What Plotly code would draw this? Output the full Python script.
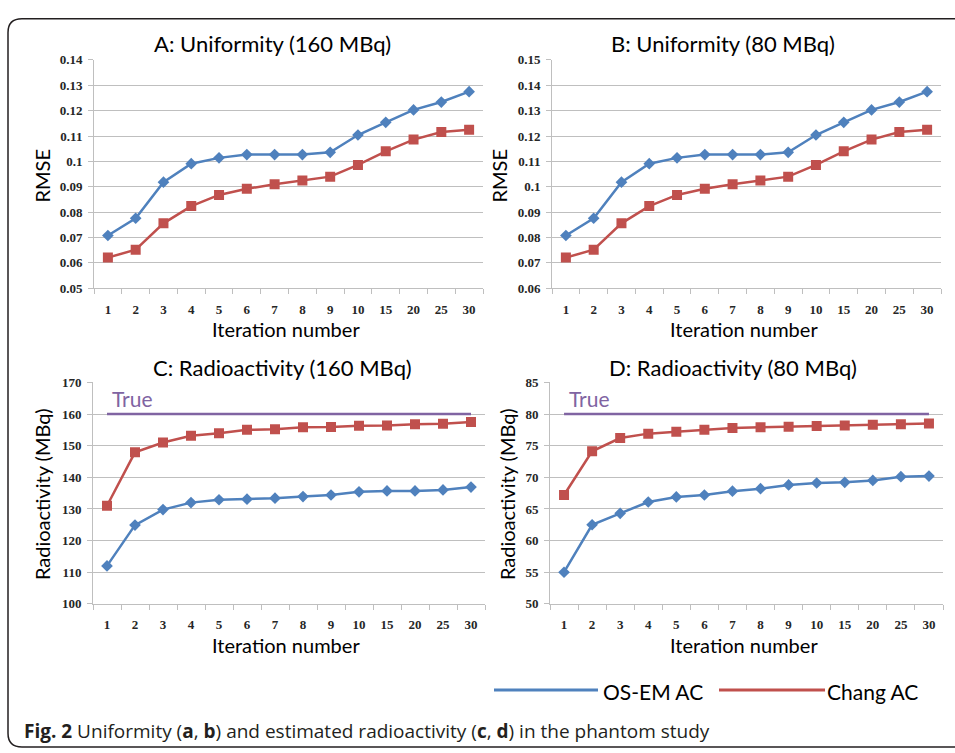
import plotly.graph_objects as go

W, H = 955, 753

iterations = ["1", "2", "3", "4", "5", "6", "7", "8", "9", "10", "15", "20", "25", "30"]

# Panel A: RMSE, 160 MBq
rmse160_osem = [0.0708, 0.0776, 0.0918, 0.0991, 0.1014, 0.1027, 0.1027, 0.1027, 0.1036, 0.1104, 0.1154, 0.1203, 0.1234, 0.1275]
rmse160_chang = [0.0621, 0.0652, 0.0756, 0.0824, 0.0868, 0.0892, 0.0910, 0.0925, 0.0940, 0.0986, 0.1040, 0.1086, 0.1116, 0.1125]

# Panel B: RMSE, 80 MBq
rmse80_osem = [0.0808, 0.0876, 0.1018, 0.1091, 0.1114, 0.1127, 0.1127, 0.1127, 0.1136, 0.1204, 0.1254, 0.1303, 0.1334, 0.1375]
rmse80_chang = [0.0721, 0.0752, 0.0856, 0.0924, 0.0968, 0.0992, 0.1010, 0.1025, 0.1040, 0.1086, 0.1140, 0.1186, 0.1216, 0.1225]

# Panel C: radioactivity, 160 MBq
act160_osem = [112.0, 124.9, 129.8, 132.0, 132.9, 133.1, 133.4, 133.9, 134.4, 135.4, 135.7, 135.7, 136.0, 136.9]
act160_chang = [131.0, 147.9, 151.0, 153.1, 153.9, 155.0, 155.2, 155.8, 155.9, 156.3, 156.4, 156.8, 156.9, 157.5]
true160 = 160

# Panel D: radioactivity, 80 MBq
act80_osem = [55.0, 62.5, 64.3, 66.1, 66.9, 67.2, 67.8, 68.2, 68.8, 69.1, 69.2, 69.5, 70.1, 70.2]
act80_chang = [67.2, 74.1, 76.2, 76.9, 77.2, 77.5, 77.8, 77.9, 78.0, 78.1, 78.2, 78.3, 78.4, 78.5]
true80 = 80

yticks_a = [0.05, 0.06, 0.07, 0.08, 0.09, 0.10, 0.11, 0.12, 0.13, 0.14]
ytext_a = ["0.05", "0.06", "0.07", "0.08", "0.09", "0.1", "0.11", "0.12", "0.13", "0.14"]
yticks_b = [0.06, 0.07, 0.08, 0.09, 0.10, 0.11, 0.12, 0.13, 0.14, 0.15]
ytext_b = ["0.06", "0.07", "0.08", "0.09", "0.1", "0.11", "0.12", "0.13", "0.14", "0.15"]
yticks_c = [100, 110, 120, 130, 140, 150, 160, 170]
yticks_d = [50, 55, 60, 65, 70, 75, 80, 85]

titles = ["A: Uniformity (160 MBq)", "B: Uniformity (80 MBq)",
          "C: Radioactivity (160 MBq)", "D: Radioactivity (80 MBq)"]
series_names = ["OS-EM AC", "Chang AC"]

BLUE = "#4F81BD"
RED = "#C0504D"
PURPLE = "#8064A2"
GRID = "#bfbfbf"
FONT = "Lato"


def px(x):
    return x / W


def py(y):
    return 1 - y / H


fig = go.Figure()

panels = [
    ("", 94, 483, 54, 287, rmse160_osem, rmse160_chang, None, [0.05, 0.14], yticks_a, ytext_a),
    ("2", 552, 941, 54, 287, rmse80_osem, rmse80_chang, None, [0.06, 0.15], yticks_b, ytext_b),
    ("3", 93, 485, 383, 609, act160_osem, act160_chang, true160, [100, 170], yticks_c, [str(v) for v in yticks_c]),
    ("4", 550, 943, 383, 609, act80_osem, act80_chang, true80, [50, 85], yticks_d, [str(v) for v in yticks_d]),
]

tickfont = dict(family="Liberation Serif", size=13, color="#262626", weight="bold")

for suf, x0, x1, y0, y1, osem, chang, true_v, yr, tv, tt in panels:
    xa = "x" + suf
    ya = "y" + suf
    if true_v is not None:
        fig.add_trace(go.Scatter(
            x=[iterations[0], iterations[-1]], y=[true_v, true_v], mode="lines",
            line=dict(color=PURPLE, width=2.5), xaxis=xa, yaxis=ya, showlegend=False))
    fig.add_trace(go.Scatter(
        x=iterations, y=osem, mode="lines+markers", name=series_names[0],
        line=dict(color=BLUE, width=2.5),
        marker=dict(symbol="diamond", size=9, color=BLUE),
        xaxis=xa, yaxis=ya, showlegend=False))
    fig.add_trace(go.Scatter(
        x=iterations, y=chang, mode="lines+markers", name=series_names[1],
        line=dict(color=RED, width=2.5),
        marker=dict(symbol="square", size=10, color=RED),
        xaxis=xa, yaxis=ya, showlegend=False))

    fig.update_layout(**{
        "xaxis" + suf: dict(
            domain=[px(x0), px(x1)], anchor=ya, type="category",
            categoryorder="array", categoryarray=iterations,
            showgrid=False, showline=True, linecolor=GRID, linewidth=1,
            ticks="outside", tickson="boundaries", ticklen=5, tickcolor=GRID,
            ticklabelstandoff=9, tickfont=tickfont, zeroline=False,
            range=[-0.5, len(iterations) - 0.5]),
        "yaxis" + suf: dict(
            domain=[py(y1), py(y0)], anchor=xa, range=yr,
            tickvals=tv, ticktext=tt,
            showgrid=True, gridcolor=GRID, gridwidth=1,
            showline=True, linecolor=GRID, linewidth=1,
            ticks="outside", ticklen=5, tickcolor=GRID,
            ticklabelstandoff=3, tickfont=tickfont, zeroline=False),
    })

ann = []
for text, (x, y) in zip(titles, [(272, 37), (723, 37), (282, 368), (733, 368)]):
    ann.append(dict(text=text, x=px(x), y=py(y), xref="paper", yref="paper",
                    showarrow=False, xanchor="center", yanchor="middle",
                    font=dict(family=FONT, size=22, color="#000")))
for (x, y) in [(286, 329), (744, 329), (286, 651), (744, 651)]:
    ann.append(dict(text="Iteration number", x=px(x), y=py(y), xref="paper", yref="paper",
                    showarrow=False, xanchor="center", yanchor="middle",
                    font=dict(family=FONT, size=20, color="#000")))
for text, (x, y) in [("RMSE", (42, 172)), ("RMSE", (499, 172)),
                     ("Radioactivity (MBq)", (42, 497)), ("Radioactivity (MBq)", (507, 497))]:
    ann.append(dict(text=text, x=px(x), y=py(y), xref="paper", yref="paper",
                    showarrow=False, xanchor="center", yanchor="middle", textangle=-90,
                    font=dict(family=FONT, size=20, color="#000")))
# "True" labels, anchored at the first category (index 0 on a category axis)
first_idx = iterations.index(iterations[0])
for suf, tvv in [("3", true160), ("4", true80)]:
    ann.append(dict(text="True", x=first_idx, y=tvv, xref="x" + suf, yref="y" + suf,
                    showarrow=False, xanchor="left", yanchor="bottom", xshift=3, yshift=1,
                    font=dict(family=FONT, size=21, color=PURPLE)))
ann.append(dict(text=series_names[0], x=px(601), y=py(698), xref="paper", yref="paper",
                showarrow=False, xanchor="left", yanchor="middle",
                font=dict(family=FONT, size=21, color="#000")))
ann.append(dict(text=series_names[1], x=px(825), y=py(698), xref="paper", yref="paper",
                showarrow=False, xanchor="left", yanchor="middle",
                font=dict(family=FONT, size=21, color="#000")))
ann.append(dict(text="<b>Fig. 2</b> Uniformity (<b>a</b>, <b>b</b>) and estimated radioactivity (<b>c</b>, <b>d</b>) in the phantom study",
                x=px(22), y=py(739), xref="paper", yref="paper",
                showarrow=False, xanchor="left", yanchor="middle",
                font=dict(family="Open Sans", size=19, color="#231f20")))

shapes = [
    dict(type="line", xref="paper", yref="paper", x0=px(494), x1=px(598), y0=py(697), y1=py(697),
         line=dict(color=BLUE, width=3)),
    dict(type="line", xref="paper", yref="paper", x0=px(719), x1=px(825), y0=py(697), y1=py(697),
         line=dict(color=RED, width=3)),
]
pts = lambda x, y: f"{px(x)},{py(y)}"
path = (f"M {pts(960, 12)} L {pts(22, 12)} Q {pts(8, 12)} {pts(8, 26)} "
        f"L {pts(8, 741)} Q {pts(8, 755)} {pts(22, 755)} L {pts(960, 755)}")
shapes.append(dict(type="path", xref="paper", yref="paper", path=path,
                   line=dict(color="#231f20", width=1.5)))

fig.update_layout(
    width=W, height=H, margin=dict(l=0, r=0, t=0, b=0),
    paper_bgcolor="white", plot_bgcolor="white",
    annotations=ann, shapes=shapes, showlegend=False,
)

fig.write_html(
    "out.html",
    config={"displayModeBar": False},
    post_script=(
        "document.body.style.margin='0';document.body.style.overflow='hidden';"
        "var gd=document.getElementById('{plot_id}');"
        "gd.style.position='fixed';gd.style.top='0px';gd.style.left='0px';"
    ),
)
